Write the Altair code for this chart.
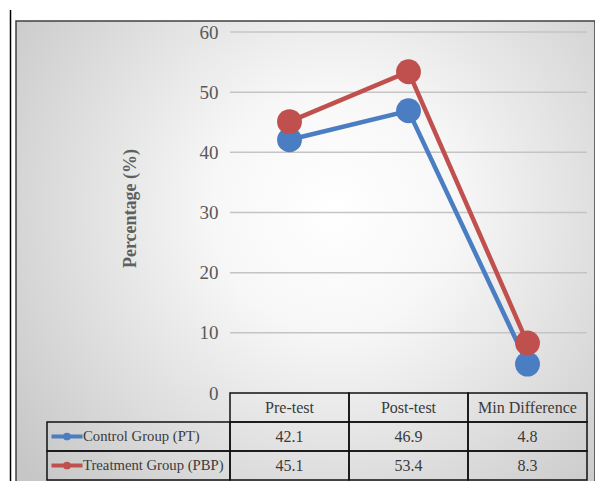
import altair as alt
import pandas as pd

categories = ["Pre-test", "Post-test", "Min Difference"]
series = ["Control Group (PT)", "Treatment Group (PBP)"]
control = [42.1, 46.9, 4.8]
treatment = [45.1, 53.4, 8.3]
colors = ["#4A7DC1", "#C0504D"]
y_ticks = [0, 10, 20, 30, 40, 50, 60]
rows = ["header"] + series

values = {series[0]: control, series[1]: treatment}
df = pd.DataFrame(
    [{"series": s, "cat": c, "value": v}
     for s in series for c, v in zip(categories, values[s])]
)
hdr = pd.DataFrame({"cat": categories, "row": ["header"] * 3})
leg = pd.DataFrame({"series": series, "col": ["legend"] * 2})
grid = pd.DataFrame({"v": y_ticks[1:], "start": categories[0], "end": categories[-1]})

W, H = 579, 460
serif = "Liberation Serif"

xs = alt.Scale(domain=categories, range=[214, 571], paddingInner=0, paddingOuter=0)
ys = alt.Scale(domain=[0, 60], range=[372, 11], nice=False)
rs = alt.Scale(domain=rows, range=[372, 459], paddingInner=0, paddingOuter=0)
ls = alt.Scale(domain=["legend"], range=[31, 214], paddingInner=0, paddingOuter=0)
cs = alt.Scale(domain=series, range=colors)

bg = alt.Chart(pd.DataFrame({"a": [0]})).mark_rect(
    fill=alt.RadialGradient(
        gradient="radial", x1=0.55, y1=0.42, r1=0, x2=0.55, y2=0.42, r2=0.7,
        stops=[alt.GradientStop(offset=0, color="#ffffff"),
               alt.GradientStop(offset=0.3, color="#f7f7f7"),
               alt.GradientStop(offset=1, color="#c6c6c6")],
    ),
    stroke="#404040", strokeWidth=1.5,
).encode(x=alt.value(0), x2=alt.value(W), y=alt.value(0), y2=alt.value(H + 10))

outer = alt.Chart(pd.DataFrame({"a": [0]})).mark_rule(
    color="#000000", strokeWidth=1.5
).encode(x=alt.value(-5.5), y=alt.value(-11), y2=alt.value(H + 5))

gridlines = alt.Chart(grid).mark_rule(color="#c4c4c4", strokeWidth=1.5).encode(
    x=alt.X("start:N", scale=xs, axis=None, sort=categories, bandPosition=0),
    x2=alt.X2("end:N", bandPosition=1),
    y=alt.Y("v:Q", scale=ys, axis=None),
)

base = alt.Chart(df)
xenc = alt.X("cat:N", scale=xs, axis=None, sort=categories)

lines = base.mark_line(strokeWidth=4.5).encode(
    x=xenc,
    y=alt.Y(
        "value:Q", scale=ys,
        axis=alt.Axis(
            values=y_ticks, offset=-214, domain=False, ticks=False, grid=False,
            labelPadding=12, labelFont=serif, labelFontSize=19,
            labelColor="#595959", zindex=1,
            title="Percentage (%)", titleFont=serif,
            titleFontSize=18, titleFontWeight="bold", titleColor="#5f5f5f",
            titleX=-100, titleY=187, titleBaseline="middle",
        ),
    ),
    color=alt.Color("series:N", scale=cs, legend=None),
    detail="series:N",
)

points = base.mark_circle(size=620, opacity=1).encode(
    x=xenc,
    y=alt.Y("value:Q", scale=ys, axis=None),
    color=alt.Color("series:N", scale=cs, legend=None),
    order=alt.Order("series:N"),
)

cell = dict(fill="transparent", stroke="#111111", strokeWidth=1.5)
tfont = dict(font=serif, fontSize=16, color="#3a3a3a")

hdr_cells = alt.Chart(hdr).mark_rect(**cell).encode(
    x=alt.X("cat:N", scale=xs, axis=None, sort=categories),
    y=alt.Y("row:N", scale=rs, axis=None, sort=rows),
)
hdr_text = alt.Chart(hdr).mark_text(**tfont).encode(
    x=alt.X("cat:N", scale=xs, axis=None, sort=categories),
    y=alt.Y("row:N", scale=rs, axis=None, sort=rows),
    text="cat:N",
)
val_cells = alt.Chart(df).mark_rect(**cell).encode(
    x=alt.X("cat:N", scale=xs, axis=None, sort=categories),
    y=alt.Y("series:N", scale=rs, axis=None, sort=rows),
)
val_text = alt.Chart(df).mark_text(**tfont).encode(
    x=alt.X("cat:N", scale=xs, axis=None, sort=categories),
    y=alt.Y("series:N", scale=rs, axis=None, sort=rows),
    text=alt.Text("value:Q", format=".1f"),
)

lx = alt.X("col:N", scale=ls, axis=None)
ly = alt.Y("series:N", scale=rs, axis=None, sort=rows)

leg_cells = alt.Chart(leg).mark_rect(**cell).encode(x=lx, y=ly)
leg_text = alt.Chart(leg).mark_text(
    align="left", dx=-55.5, font=serif, fontSize=14.7, color="#3a3a3a"
).encode(x=lx, y=ly, text="series:N")
leg_line = alt.Chart(leg).mark_tick(
    orient="horizontal", size=31, thickness=4, xOffset=-71.5, opacity=1
).encode(x=lx, y=ly, color=alt.Color("series:N", scale=cs, legend=None))
leg_dot = alt.Chart(leg).mark_circle(size=60, xOffset=-71.5, opacity=1).encode(
    x=lx, y=ly, color=alt.Color("series:N", scale=cs, legend=None)
)

chart = alt.layer(
    bg, outer, gridlines, lines, points,
    hdr_cells, hdr_text, val_cells, val_text,
    leg_cells, leg_text, leg_line, leg_dot,
).resolve_scale(
    x="independent", y="independent", color="shared"
).properties(
    width=W, height=H, autosize=alt.AutoSizeParams(type="none"),
    padding={"left": 16, "top": 21, "right": 0, "bottom": 0},
).configure_view(stroke=None)

chart.save("out.html", embed_options={"renderer": "svg", "actions": False})
